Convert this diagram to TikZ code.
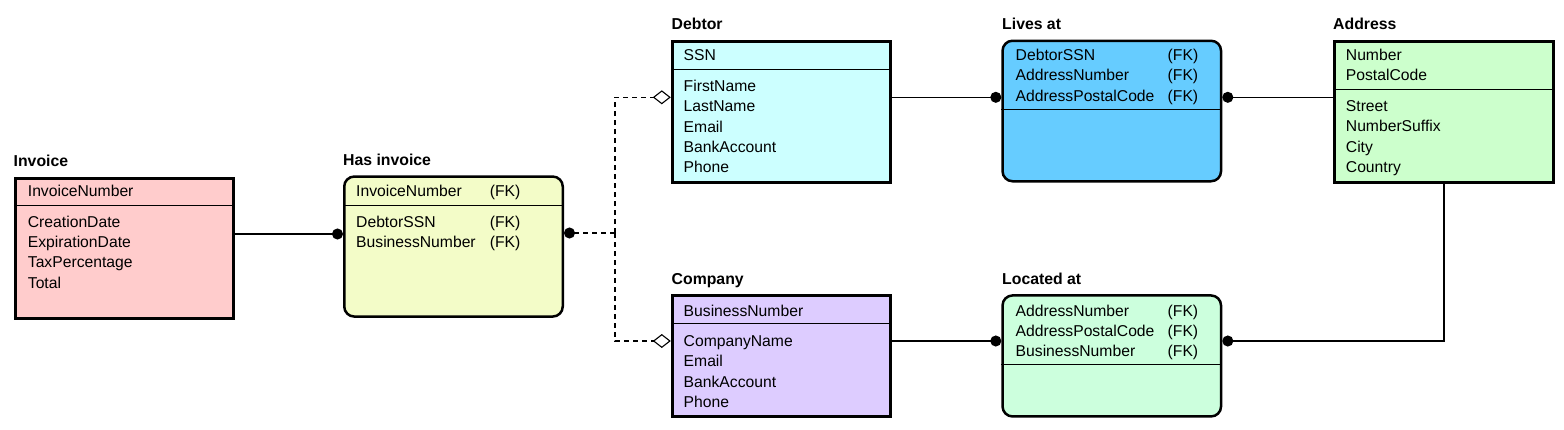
\documentclass[tikz,border=0pt]{standalone}
\usepackage{fontspec}
\setmainfont{Liberation Sans}
\usetikzlibrary{arrows.meta}

\definecolor{invoicefill}{HTML}{FFCCCC}
\definecolor{hasinvfill}{HTML}{F3FCC8}
\definecolor{debtorfill}{HTML}{CCFFFF}
\definecolor{livesfill}{HTML}{66CCFF}
\definecolor{addressfill}{HTML}{CCFFCC}
\definecolor{companyfill}{HTML}{DDCCFF}
\definecolor{locatedfill}{HTML}{CCFFDD}

\begin{document}
\begin{tikzpicture}[x=1pt, y=-1pt,
    font=\fontsize{15.7}{20.25}\selectfont,
    entity/.style={draw, line width=3pt, anchor=north west, inner sep=0pt, minimum width=218.5pt},
    relation/.style={draw, line width=2.5pt, rounded corners=10pt, anchor=north west, inner sep=0pt, minimum width=218.5pt},
    title/.style={anchor=base west, inner sep=0pt, font=\fontsize{15.8}{18}\selectfont\bfseries},
    fields/.style={anchor=base west, inner sep=0pt},
    sep/.style={line width=0.9pt},
    link/.style={line width=1.1pt},
    rel dash/.style={link, dash pattern=on 5pt off 4pt},
    dot/.tip={Circle[length=11pt]},
    hollow/.tip={Diamond[open, length=18pt, width=14pt]}]
    \useasboundingbox (0,0) rectangle (1564,429);

    % Boxes
    \node[entity, fill=invoicefill, minimum height=140pt] (invoice) at (13.8,176.5) {};
    \node[relation, fill=hasinvfill, minimum height=140pt] (hasinv) at (343,175.3) {};
    \node[entity, fill=debtorfill, minimum height=141pt] (debtor) at (670.8,39.5) {};
    \node[relation, fill=livesfill, minimum height=140.5pt] (livesat) at (1001.3,39.5) {};
    \node[entity, fill=addressfill, minimum height=141pt] (address) at (1333.2,39.5) {};
    \node[entity, fill=companyfill, minimum height=121pt] (company) at (670.8,294.2) {};
    \node[relation, fill=locatedfill, minimum height=121pt] (locatedat) at (1001.3,294.2) {};

    % Titles
    \node[title] (invoice-title) at (13.5,166.7) {Invoice};
    \node[title] (hasinv-title) at (343,165.7) {Has invoice};
    \node[title] (debtor-title) at (671.5,29) {Debtor};
    \node[title] (livesat-title) at (1002,29) {Lives at};
    \node[title] (address-title) at (1333,29) {Address};
    \node[title] (company-title) at (671.5,284) {Company};
    \node[title] (locatedat-title) at (1002,284) {Located at};

    % Separators
    \draw[sep] (invoice.west |- 0,205) -- (invoice.east |- 0,205);
    \draw[sep] (hasinv.west |- 0,205) -- (hasinv.east |- 0,205);
    \draw[sep] (debtor.west |- 0,69.3) -- (debtor.east |- 0,69.3);
    \draw[sep] (livesat.west |- 0,109) -- (livesat.east |- 0,109);
    \draw[sep] (address.west |- 0,89) -- (address.east |- 0,89);
    \draw[sep] (company.west |- 0,323.5) -- (company.east |- 0,323.5);
    \draw[sep] (locatedat.west |- 0,364.3) -- (locatedat.east |- 0,364.3);

    % Fields
    \node[fields] (invoice-key) at (27.7,196.7) {InvoiceNumber};
    \node[fields] (invoice-attr) at (27.7,227.3) {\begin{tabular}[t]{@{}l@{}}
        CreationDate\\ ExpirationDate\\ TaxPercentage\\ Total\end{tabular}};
    \node[fields] (hasinv-key) at (356,196.7) {\begin{tabular}[t]{@{}p{133.6pt}@{}l@{}}
        InvoiceNumber & (FK)\end{tabular}};
    \node[fields] (hasinv-attr) at (356,227.3) {\begin{tabular}[t]{@{}p{133.6pt}@{}l@{}}
        DebtorSSN & (FK)\\ BusinessNumber & (FK)\end{tabular}};
    \node[fields] (debtor-key) at (683.5,60.7) {SSN};
    \node[fields] (debtor-attr) at (683.5,91.7) {\begin{tabular}[t]{@{}l@{}}
        FirstName\\ LastName\\ Email\\ BankAccount\\ Phone\end{tabular}};
    \node[fields] (livesat-key) at (1015.5,60.7) {\begin{tabular}[t]{@{}p{152pt}@{}l@{}}
        DebtorSSN & (FK)\\ AddressNumber & (FK)\\ AddressPostalCode & (FK)\end{tabular}};
    \node[fields] (address-key) at (1345.7,60.7) {\begin{tabular}[t]{@{}l@{}}
        Number\\ PostalCode\end{tabular}};
    \node[fields] (address-attr) at (1345.7,111.7) {\begin{tabular}[t]{@{}l@{}}
        Street\\ NumberSuffix\\ City\\ Country\end{tabular}};
    \node[fields] (company-key) at (683.5,316) {BusinessNumber};
    \node[fields] (company-attr) at (683.5,346.5) {\begin{tabular}[t]{@{}l@{}}
        CompanyName\\ Email\\ BankAccount\\ Phone\end{tabular}};
    \node[fields] (locatedat-key) at (1015.5,316) {\begin{tabular}[t]{@{}p{152pt}@{}l@{}}
        AddressNumber & (FK)\\ AddressPostalCode & (FK)\\ BusinessNumber & (FK)\end{tabular}};

    % Connectors
    \coordinate (fork) at (615,233);
    \draw[link, -dot] (invoice.east |- 0,234) -- (hasinv.west |- 0,234);
    \draw[rel dash, dot-] (hasinv.east |- fork) -- (fork);
    \draw[rel dash, -hollow] (fork) |- (debtor.west |- 0,97.3);
    \draw[rel dash, -hollow] (fork) |- (company.west |- 0,341);
    \draw[link, -dot] (debtor.east |- 0,97.3) -- (livesat.west |- 0,97.3);
    \draw[link, dot-] (livesat.east |- 0,97.3) -- (address.west |- 0,97.3);
    \draw[link, -dot] (company.east |- 0,341) -- (locatedat.west |- 0,341);
    \draw[link, dot-] (locatedat.east |- 0,341) -| (address.south);
\end{tikzpicture}
\end{document}
